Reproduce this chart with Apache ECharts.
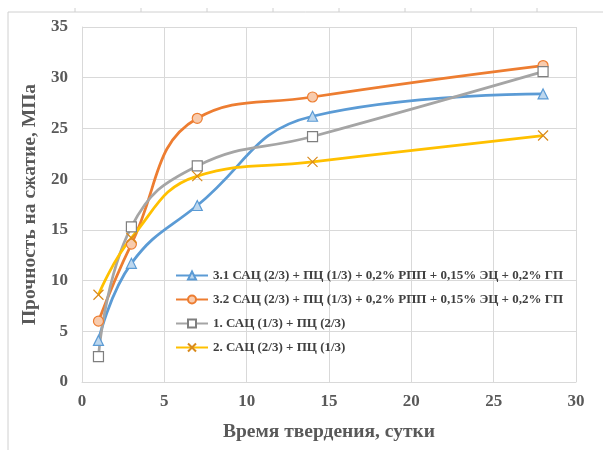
<!DOCTYPE html>
<html><head><meta charset="utf-8">
<script src="https://cdn.jsdelivr.net/npm/echarts@6/dist/echarts.min.js"></script>
<style>html,body{margin:0;padding:0;background:#fff}#c{width:603px;height:450px}</style>
</head><body><div id="c"></div>
<script>
const days = [1, 3, 7, 14, 28];
const s31 = [4.1, 11.7, 17.4, 26.2, 28.4];
const s32 = [6.0, 13.6, 26.0, 28.1, 31.2];
const s1 = [2.5, 15.3, 21.3, 24.2, 30.6];
const s2 = [8.6, 14.2, 20.3, 21.7, 24.3];
const names = [
  '3.1 САЦ (2/3) + ПЦ (1/3) + 0,2% РПП + 0,15% ЭЦ + 0,2% ГП',
  '3.2 САЦ (2/3) + ПЦ (1/3) + 0,2% РПП + 0,15% ЭЦ + 0,2% ГП',
  '1. САЦ (1/3) + ПЦ (2/3)',
  '2. САЦ (2/3) + ПЦ (1/3)'
];
const xTitle = 'Время твердения, сутки';
const yTitle = 'Прочность на сжатие, МПа';

const pair = arr => days.map((d, i) => [d, arr[i]]);
const font = '"Liberation Serif","Times New Roman",serif';
const txt = '#595959';

function mk(name, data, color, symbol, fill, border) {
  return {
    name, type: 'line', data: pair(data), smooth: 0.45,
    symbol, symbolSize: 10,
    lineStyle: { color, width: 2.75 },
    itemStyle: { color: fill, borderColor: border, borderWidth: 1.2 },
    emphasis: { disabled: true }
  };
}

const chart = echarts.init(document.getElementById('c'));
const ticks = [];
[75, 141, 207, 273, 339, 405, 471, 537].forEach(x => ticks.push({ type: 'line', shape: { x1: x, y1: 8, x2: x, y2: 12 }, style: { stroke: '#d0d0d0', lineWidth: 1 } }));
chart.setOption({
  animation: false,
  backgroundColor: '#fff',
  grid: { left: 82, right: 27, top: 27, bottom: 68 },
  xAxis: {
    type: 'value', min: 0, max: 30, interval: 5,
    axisLine: { show: true, lineStyle: { color: '#d9d9d9' } },
    axisTick: { show: false },
    splitLine: { show: true, lineStyle: { color: '#d9d9d9' } },
    axisLabel: { color: txt, fontFamily: font, fontWeight: 'bold', fontSize: 17, margin: 11 },
    name: xTitle, nameLocation: 'middle', nameGap: 40,
    nameTextStyle: { color: txt, fontFamily: font, fontWeight: 'bold', fontSize: 19.5 }
  },
  yAxis: {
    type: 'value', min: 0, max: 35, interval: 5,
    axisLine: { show: true, lineStyle: { color: '#d9d9d9' } },
    axisTick: { show: false },
    splitLine: { show: true, lineStyle: { color: '#d9d9d9' } },
    axisLabel: { color: txt, fontFamily: font, fontWeight: 'bold', fontSize: 17, margin: 14 },
    name: yTitle, nameLocation: 'middle', nameGap: 42,
    nameTextStyle: { color: txt, fontFamily: font, fontWeight: 'bold', fontSize: 19.5 }
  },
  legend: {
    orient: 'vertical', left: 170, top: 264, itemGap: 11, itemWidth: 32, itemHeight: 10,
    textStyle: { color: '#404040', fontFamily: font, fontWeight: 'bold', fontSize: 13 },
    data: names
  },
  graphic: [
    { type: 'line', shape: { x1: 8, y1: 12, x2: 603, y2: 12 }, style: { stroke: '#d0d0d0', lineWidth: 1 } },
    { type: 'line', shape: { x1: 8, y1: 12, x2: 8, y2: 450 }, style: { stroke: '#d0d0d0', lineWidth: 1 } }
  ].concat(ticks),
  series: [
    mk(names[0], s31, '#5B9BD5', 'triangle', '#BDD7EE', '#5B9BD5'),
    mk(names[1], s32, '#ED7D31', 'circle', '#F8CBAD', '#ED7D31'),
    mk(names[2], s1, '#A5A5A5', 'rect', '#FFFFFF', '#7F7F7F'),
    mk(names[3], s2, '#FFC000', 'path://M0,0L10,10M10,0L0,10', '#D98A1C', '#D98A1C')
  ]
});
</script></body></html>
